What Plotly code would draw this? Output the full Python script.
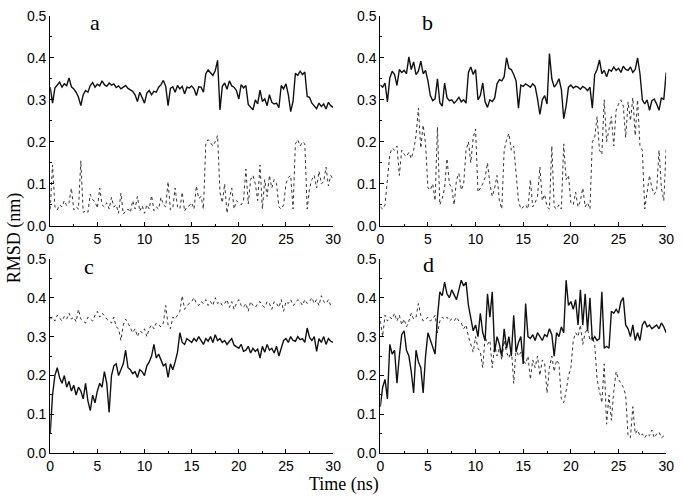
import plotly.graph_objects as go

# time axis (ns), 0.25 ns sampling
time_ns = [round(0.25 * i, 2) for i in range(121)]

a_solid = [
    .330, .292, .328, .336, .342, .330, .338, .334, .352, .331, .326, .318,
    .306, .286, .312, .322, .318, .334, .341, .330, .337, .333, .345, .336,
    .332, .340, .335, .338, .329, .333, .326, .330, .334, .327, .324, .320,
    .312, .296, .318, .305, .292, .316, .322, .312, .320, .318, .330, .336,
    .346, .332, .286, .327, .331, .318, .334, .326, .332, .314, .330, .328,
    .333, .326, .310, .331, .330, .318, .362, .371, .365, .358, .369, .394,
    .276, .332, .340, .325, .345, .333, .330, .322, .302, .336, .328, .334,
    .289, .283, .276, .300, .290, .323, .296, .302, .286, .312, .294, .290,
    .292, .281, .334, .326, .338, .312, .272, .296, .363, .358, .368, .360,
    .366, .308, .306, .292, .285, .279, .292, .284, .290, .278, .294, .286,
    .282]
a_dotted = [
    .040, .145, .045, .038, .050, .045, .060, .048, .055, .090, .038, .045,
    .040, .155, .032, .036, .032, .075, .062, .058, .042, .090, .050, .045,
    .055, .040, .068, .045, .050, .030, .078, .028, .035, .040, .032, .060,
    .040, .070, .035, .048, .030, .050, .040, .072, .036, .045, .040, .068,
    .050, .045, .105, .038, .042, .090, .045, .040, .080, .035, .045, .048,
    .055, .040, .095, .065, .070, .040, .195, .205, .198, .190, .200, .215,
    .080, .055, .100, .030, .065, .090, .040, .060, .055, .050, .060, .135,
    .052, .110, .120, .100, .060, .145, .040, .110, .070, .120, .090, .110,
    .100, .045, .040, .050, .100, .115, .120, .040, .195, .205, .190, .200,
    .195, .040, .090, .110, .120, .090, .130, .100, .105, .140, .095, .120,
    .110]
b_solid = [
    .335, .330, .340, .295, .352, .368, .360, .334, .372, .365, .370, .362,
    .402, .372, .390, .360, .368, .392, .362, .370, .345, .310, .298, .302,
    .350, .293, .285, .340, .305, .298, .300, .292, .298, .306, .295, .300,
    .292, .365, .378, .360, .372, .300, .310, .340, .295, .282, .300, .296,
    .304, .338, .348, .345, .355, .400, .375, .372, .360, .345, .280, .335,
    .332, .338, .334, .330, .338, .332, .302, .265, .300, .310, .290, .410,
    .350, .330, .338, .350, .325, .255, .285, .330, .335, .328, .332, .330,
    .325, .332, .328, .322, .330, .280, .360, .372, .395, .362, .370, .355,
    .372, .368, .378, .370, .375, .365, .380, .372, .370, .378, .365, .372,
    .400, .362, .300, .290, .300, .275, .298, .302, .290, .275, .305, .300,
    .365]
b_dotted = [
    .045, .040, .050, .110, .170, .185, .180, .190, .120, .180, .170, .165,
    .175, .160, .180, .215, .280, .185, .240, .195, .090, .085, .100, .060,
    .235, .050, .065, .090, .160, .100, .090, .050, .110, .125, .085, .100,
    .180, .200, .150, .210, .230, .080, .090, .100, .115, .150, .100, .070,
    .090, .120, .060, .040, .180, .205, .220, .180, .190, .130, .060, .040,
    .045, .050, .040, .110, .045, .055, .070, .140, .060, .075, .045, .040,
    .190, .045, .040, .050, .040, .195, .110, .120, .055, .050, .080, .045,
    .060, .090, .045, .055, .040, .200, .210, .260, .180, .170, .300, .200,
    .230, .260, .190, .275, .290, .300, .285, .210, .295, .250, .305, .215,
    .300, .190, .180, .040, .080, .120, .090, .075, .085, .180, .090, .060,
    .185]
c_solid = [
    .050, .150, .200, .220, .195, .180, .200, .170, .185, .160, .175, .150,
    .170, .160, .140, .180, .135, .110, .150, .130, .160, .180, .170, .210,
    .180, .105, .200, .225, .230, .200, .215, .230, .265, .220, .215, .205,
    .210, .195, .215, .210, .200, .225, .235, .250, .280, .245, .255, .240,
    .225, .230, .195, .230, .215, .235, .260, .310, .285, .280, .295, .290,
    .285, .295, .288, .300, .290, .280, .295, .288, .300, .285, .305, .290,
    .295, .285, .290, .280, .288, .295, .278, .275, .270, .280, .262, .265,
    .275, .258, .270, .262, .268, .245, .275, .260, .280, .265, .270, .258,
    .275, .250, .268, .290, .295, .285, .300, .290, .288, .300, .292, .295,
    .285, .322, .298, .290, .300, .262, .295, .285, .300, .280, .295, .288,
    .285]
c_dotted = [
    .345, .350, .340, .355, .348, .340, .352, .345, .360, .345, .350, .338,
    .370, .345, .340, .335, .350, .345, .340, .355, .365, .350, .360, .355,
    .345, .340, .335, .350, .325, .320, .290, .330, .345, .335, .320, .310,
    .320, .300, .315, .310, .320, .300, .320, .330, .320, .335, .330, .325,
    .335, .380, .330, .320, .350, .345, .355, .365, .405, .370, .380, .385,
    .390, .400, .385, .380, .390, .385, .395, .380, .390, .380, .400, .385,
    .390, .380, .385, .395, .375, .390, .370, .385, .395, .380, .375, .385,
    .365, .390, .380, .375, .385, .390, .380, .375, .390, .385, .370, .390,
    .385, .375, .395, .365, .390, .385, .395, .380, .385, .395, .390, .380,
    .395, .385, .390, .400, .385, .395, .380, .405, .390, .385, .395, .380,
    .385]
d_solid = [
    .120, .170, .190, .140, .280, .255, .265, .180, .250, .305, .315, .265,
    .250, .210, .155, .265, .235, .220, .155, .250, .310, .290, .275, .255,
    .350, .415, .405, .440, .410, .400, .420, .405, .395, .420, .445, .430,
    .440, .380, .350, .315, .330, .300, .360, .310, .290, .410, .350, .415,
    .260, .300, .280, .250, .320, .270, .300, .250, .355, .260, .285, .300,
    .230, .385, .300, .295, .305, .290, .310, .300, .290, .305, .300, .320,
    .305, .250, .310, .300, .325, .310, .445, .380, .390, .370, .395, .330,
    .420, .330, .410, .315, .400, .290, .300, .290, .295, .415, .270, .275,
    .270, .365, .360, .370, .360, .390, .400, .330, .320, .300, .330, .290,
    .310, .290, .330, .340, .325, .330, .320, .325, .330, .320, .335, .325,
    .310]
d_dotted = [
    .340, .300, .355, .340, .350, .345, .360, .340, .355, .330, .345, .325,
    .340, .360, .345, .350, .385, .355, .340, .345, .350, .340, .345, .355,
    .310, .340, .350, .345, .350, .340, .345, .340, .350, .340, .335, .320,
    .330, .300, .280, .260, .300, .270, .260, .220, .300, .280, .290, .220,
    .280, .250, .270, .240, .290, .260, .245, .270, .180, .270, .250, .260,
    .240, .230, .250, .190, .240, .220, .250, .200, .240, .230, .155, .220,
    .250, .210, .240, .230, .140, .130, .160, .200, .220, .290, .310, .300,
    .330, .280, .310, .320, .290, .300, .280, .190, .160, .130, .230, .075,
    .150, .085, .160, .210, .190, .180, .170, .150, .045, .040, .120, .050,
    .060, .045, .050, .040, .050, .045, .060, .040, .050, .055, .040, .045,
    .050]

panel_labels = ["a", "b", "c", "d"]
x_ticks = [0, 5, 10, 15, 20, 25, 30]
y_ticks = [0.0, 0.1, 0.2, 0.3, 0.4, 0.5]

W, H = 684, 503
def fx(px): return px / W
def fy(py): return 1 - py / H

panels = [
    (a_solid, a_dotted, (47, 335), (8, 225)),
    (b_solid, b_dotted, (383, 674), (8, 225)),
    (c_solid, c_dotted, (47, 335), (259, 460)),
    (d_solid, d_dotted, (383, 674), (259, 460)),
]

fig = go.Figure()
layout = {}
for i, (sol, dot, (x0, x1), (y0, y1)) in enumerate(panels):
    n = i + 1
    xa = "x" if n == 1 else f"x{n}"
    ya = "y" if n == 1 else f"y{n}"
    fig.add_trace(go.Scatter(x=time_ns, y=dot, mode="lines", xaxis=xa, yaxis=ya,
                             line=dict(color="#333333", width=1, dash="dot"),
                             showlegend=False, hoverinfo="skip"))
    fig.add_trace(go.Scatter(x=time_ns, y=sol, mode="lines", xaxis=xa, yaxis=ya,
                             line=dict(color="#111111", width=1.4),
                             showlegend=False, hoverinfo="skip"))
    xkey = "xaxis" if n == 1 else f"xaxis{n}"
    ykey = "yaxis" if n == 1 else f"yaxis{n}"
    layout[xkey] = dict(domain=[fx(x0), fx(x1)], anchor=ya, range=[0, 30],
                        tickvals=x_ticks, ticktext=[str(v) for v in x_ticks],
                        showline=True, linecolor="black", linewidth=1,
                        ticks="inside", ticklen=4, tickcolor="black",
                        minor=dict(ticks="inside", ticklen=2, dtick=2.5, tick0=0, tickcolor="black"),
                        showgrid=False, zeroline=False,
                        tickfont=dict(family="Liberation Sans, Arial", size=14, color="black"))
    layout[ykey] = dict(domain=[fy(y1), fy(y0)], anchor=xa, range=[0, 0.5],
                        tickvals=y_ticks, ticktext=[f"{v:.1f}" for v in y_ticks],
                        showline=True, linecolor="black", linewidth=1,
                        ticks="inside", ticklen=4, tickcolor="black",
                        minor=dict(ticks="inside", ticklen=2, dtick=0.05, tick0=0, tickcolor="black"),
                        showgrid=False, zeroline=False,
                        tickfont=dict(family="Liberation Sans, Arial", size=14, color="black"))

annotations = []
letter_pos = [(93, 15), (431, 15), (87, 267), (432, 265)]
for lab, (px, py) in zip(panel_labels, letter_pos):
    annotations.append(dict(text=lab, x=fx(px), y=fy(py), xref="paper", yref="paper",
                            showarrow=False, xanchor="center", yanchor="middle",
                            font=dict(family="Liberation Serif, Times New Roman", size=22, color="black")))
annotations.append(dict(text="RMSD (nm)", x=fx(11), y=fy(237), xref="paper", yref="paper",
                        showarrow=False, textangle=-90, xanchor="center", yanchor="middle",
                        font=dict(family="Liberation Serif, Times New Roman", size=18, color="black")))
annotations.append(dict(text="Time (ns)", x=fx(346), y=fy(492), xref="paper", yref="paper",
                        showarrow=False, xanchor="center", yanchor="middle",
                        font=dict(family="Liberation Serif, Times New Roman", size=18, color="black")))

fig.update_layout(width=W, height=H, margin=dict(l=0, r=0, t=0, b=0),
                  paper_bgcolor="white", plot_bgcolor="white",
                  annotations=annotations, **layout)
fig.write_html("out.html", config={"displayModeBar": False},
               post_script="document.body.style.margin='0';")
